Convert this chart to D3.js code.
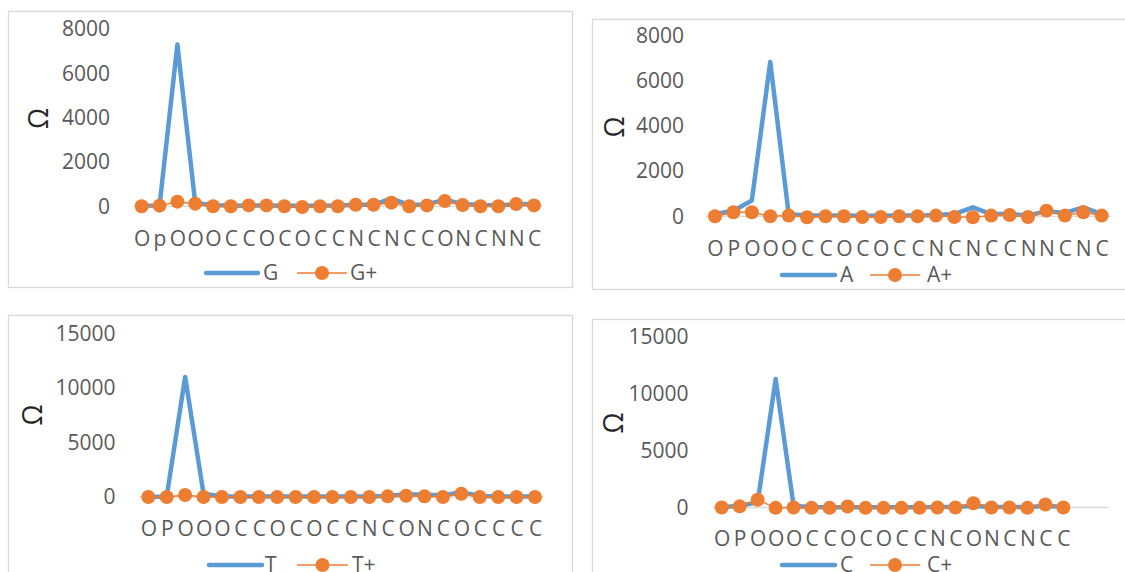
<!DOCTYPE html>
<html>
<head>
<meta charset="utf-8">
<script src="https://cdn.jsdelivr.net/npm/d3@7"></script>
<style>
  html, body { margin: 0; padding: 0; background: #fff; }
  svg { display: block; }
  text { font-family: "Open Sans", "Liberation Sans", sans-serif; }
</style>
</head>
<body>
<svg id="chart" width="1125" height="572"></svg>
<script>
// ---------- DATA ----------
const gCategories = ["O","p","O","O","O","C","C","O","C","O","C","C","N","C","N","C","C","O","N","C","N","N","C"];
const gValues     = [30, 40, 7300, 150, 50, 40, 30, 40, 30, 20, 30, 40, 60, 80, 350, 60, 80, 300, 100, 60, 50, 80, 120];
const gPlusValues = [0, 30, 210, 120, 0, 0, 40, 40, 0, -30, 0, 0, 70, 70, 165, 0, 40, 240, 60, 0, 0, 100, 40];

const aCategories = ["O","P","O","O","O","C","C","O","C","O","C","C","N","C","N","C","C","N","N","C","N","C"];
const aValues     = [100, 250, 700, 6850, 100, 30, 30, 30, 20, 20, 30, 30, 60, 100, 400, 100, 100, 40, 220, 150, 400, 100];
const aPlusValues = [0, 180, 180, 0, 30, -40, 0, 0, -30, -30, 0, 0, 30, -30, -40, 30, 60, -30, 250, 30, 180, 30];

const tCategories = ["O","P","O","O","O","C","C","O","C","O","C","C","N","C","O","N","C","O","C","C","C","C"];
const tValues     = [0, 50, 11000, 300, 50, 50, 50, 50, 50, 50, 50, 50, 50, 100, 250, 200, 150, 450, 100, 50, 50, 50];
const tPlusValues = [0, 0, 180, 0, 0, 0, 0, 0, 0, 0, 0, 0, 0, 60, 120, 60, 0, 300, 0, 0, 0, 0];

const cCategories = ["O","P","O","O","O","C","C","O","C","O","C","C","N","C","O","N","C","N","C","C","",""];
const cValues     = [20, 150, 450, 11300, 150, 30, 30, 30, 30, 30, 30, 30, 50, 50, 150, 50, 50, 30, 150, 50, null, null];
const cPlusValues = [0, 100, 680, -30, 0, -30, -30, 90, -30, -30, -30, -30, 0, 0, 380, 0, 0, -30, 260, 0, null, null];

const ticks8000  = [0, 2000, 4000, 6000, 8000];
const ticks15000 = [0, 5000, 10000, 15000];
const seriesNames = [["G","G+"],["A","A+"],["T","T+"],["C","C+"]];
const yAxisTitle = "Ω";

// ---------- STYLE / LAYOUT ----------
const BLUE = "#5B9BD5", ORANGE = "#ED7D31", GRID = "#D9D9D9", TXT = "#595959";
const svg = d3.select("#chart");

const panels = [
  { frame:[8,11,564,276], cats:gCategories, blue:gValues, orange:gPlusValues, names:seriesNames[0],
    ticks:ticks8000, ymax:8000, y0:206.3, yTop:29, xr:[132.8,542.9], tickX:110, catY:238.3, titleX:38.5, titleY:118.5,
    leg:{y:273, b:[206,258], bt:263, o:[297,347], ot:350} },
  { frame:[592,19,560,270], cats:aCategories, blue:aValues, orange:aPlusValues, names:seriesNames[1],
    ticks:ticks8000, ymax:8000, y0:216.3, yTop:36, xr:[705.8,1110.9], tickX:684, catY:248.3, titleX:614, titleY:127,
    leg:{y:275, b:[782,835], bt:840, o:[870,920], ot:927} },
  { frame:[8,315,564,280], cats:tCategories, blue:tValues, orange:tPlusValues, names:seriesNames[2],
    ticks:ticks15000, ymax:15000, y0:497, yTop:333.3, xr:[139.1,544.2], tickX:115.5, catY:528.3, titleX:32, titleY:415,
    leg:{y:565, b:[209,262], bt:265, o:[297,348], ot:352} },
  { frame:[592,319,560,280], cats:cCategories, blue:cValues, orange:cPlusValues, names:seriesNames[3],
    ticks:ticks15000, ymax:15000, y0:507.5, yTop:337, xr:[712.7,1108.3], tickX:688.5, catY:538.3, titleX:613.5, titleY:423,
    leg:{y:565, b:[782,835], bt:840, o:[870,920], ot:927} }
];

panels.forEach(p => {
  const g = svg.append("g");
  g.append("rect").attr("x", p.frame[0]+0.5).attr("y", p.frame[1]+0.5)
    .attr("width", p.frame[2]).attr("height", p.frame[3])
    .attr("fill", "#fff").attr("stroke", GRID).attr("stroke-width", 1.3);

  const idx = p.cats.map((c,i) => i);
  const x = d3.scalePoint().domain(idx).range(p.xr).padding(0.5);
  const y = d3.scaleLinear().domain([0, p.ymax]).range([p.y0, p.yTop]);

  const yAxis = d3.axisLeft(y).tickValues(p.ticks).tickSize(0).tickPadding(0).tickFormat(d3.format("d"));
  const ya = g.append("g").attr("transform", `translate(${p.tickX},0)`).call(yAxis);
  ya.select(".domain").remove();
  ya.selectAll("text").attr("fill", TXT).style("font-size", "21px")
    .style("font-family", "'Open Sans', sans-serif");

  g.append("line").attr("x1", p.xr[0]).attr("x2", p.xr[1])
    .attr("y1", y(0)).attr("y2", y(0)).attr("stroke", GRID).attr("stroke-width", 1.3);

  const xAxis = d3.axisBottom(x).tickSize(0).tickPadding(0).tickFormat(i => p.cats[i]);
  const xa = g.append("g").attr("transform", `translate(0,${p.catY})`).call(xAxis);
  xa.select(".domain").remove();
  xa.selectAll("text").attr("fill", TXT).attr("dy", "0.35em").attr("y", 0)
    .style("font-size", "21px").style("font-family", "'Open Sans', sans-serif");

  g.append("text").attr("transform", `translate(${p.titleX},${p.titleY}) rotate(-90)`)
    .attr("text-anchor", "middle").attr("dy", "0.36em")
    .attr("fill", "#262626").style("font-size", "27px").text(yAxisTitle);

  const line = d3.line().defined(d => d != null).x((d,i) => x(i)).y(d => y(d));

  g.append("path").datum(p.blue).attr("d", line).attr("fill", "none")
    .attr("stroke", BLUE).attr("stroke-width", 4.5)
    .attr("stroke-linejoin", "round").attr("stroke-linecap", "round");

  g.append("path").datum(p.orange).attr("d", line).attr("fill", "none")
    .attr("stroke", ORANGE).attr("stroke-width", 1.5).attr("stroke-linejoin", "round");

  g.selectAll("circle.m").data(p.orange.map((v,i) => ({v,i})).filter(d => d.v != null))
    .enter().append("circle").attr("class", "m")
    .attr("cx", d => x(d.i)).attr("cy", d => y(d.v)).attr("r", 7).attr("fill", ORANGE);

  const L = p.leg;
  g.append("line").attr("x1", L.b[0]).attr("x2", L.b[1]).attr("y1", L.y).attr("y2", L.y)
    .attr("stroke", BLUE).attr("stroke-width", 4.5).attr("stroke-linecap", "round");
  g.append("text").attr("x", L.bt).attr("y", L.y).attr("dy", "0.35em")
    .attr("fill", TXT).style("font-size", "21px").text(p.names[0]);
  g.append("line").attr("x1", L.o[0]).attr("x2", L.o[1]).attr("y1", L.y).attr("y2", L.y)
    .attr("stroke", ORANGE).attr("stroke-width", 1.5);
  g.append("circle").attr("cx", (L.o[0]+L.o[1])/2).attr("cy", L.y).attr("r", 7).attr("fill", ORANGE);
  g.append("text").attr("x", L.ot).attr("y", L.y).attr("dy", "0.35em")
    .attr("fill", TXT).style("font-size", "21px").text(p.names[1]);
});
</script>
</body>
</html>
